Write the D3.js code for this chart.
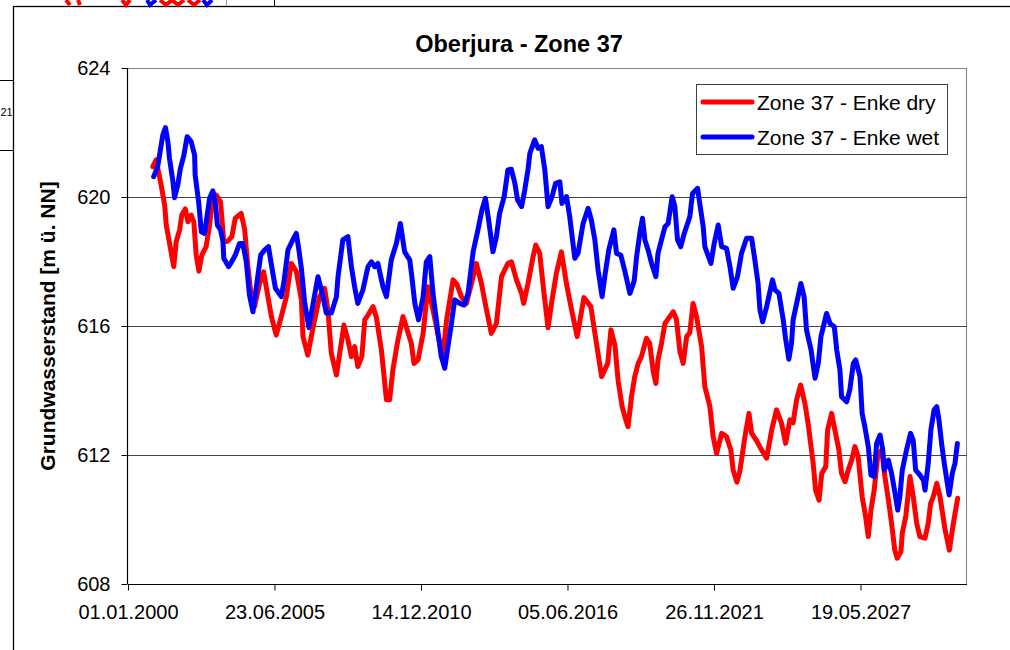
<!DOCTYPE html>
<html>
<head>
<meta charset="utf-8">
<script src="https://cdn.jsdelivr.net/npm/d3@7"></script>
<style>
  html, body { margin: 0; padding: 0; background: #fff; }
  svg { display: block; font-family: "Liberation Sans", Arial, sans-serif; }
</style>
</head>
<body>
<svg id="chart" width="1010" height="650"></svg>
<script>
// ---------------- data ----------------
const chartTitle = "Oberjura - Zone 37";
const yAxisTitle = "Grundwasserstand [m ü. NN]";
const seriesNames = ["Zone 37 - Enke dry", "Zone 37 - Enke wet"];
const seriesColors = ["#FF0000", "#0000FF"];
const yTicks = [608, 612, 616, 620, 624];
const xTickLabels = ["01.01.2000", "23.06.2005", "14.12.2010", "05.06.2016", "26.11.2021", "19.05.2027"];
const xAxisEnd = "12.05.2031";

const dryYears = [2000.93,2001.05,2001.24,2001.37,2001.43,2001.71,2001.80,2001.93,2002.01,2002.14,2002.24,2002.36,2002.46,2002.55,2002.65,2002.76,2002.92,2003.05,2003.17,2003.30,2003.46,2003.58,2003.73,2003.88,2004.01,2004.23,2004.36,2004.48,2004.61,2004.73,2004.92,2005.07,2005.23,2005.36,2005.54,2005.73,2005.92,2006.10,2006.29,2006.48,2006.54,2006.72,2006.91,2007.16,2007.35,2007.47,2007.60,2007.79,2007.97,2008.07,2008.22,2008.35,2008.47,2008.59,2008.74,2008.85,2008.97,2009.16,2009.28,2009.47,2009.66,2009.78,2009.90,2010.09,2010.28,2010.40,2010.59,2010.69,2010.84,2011.03,2011.21,2011.40,2011.65,2011.77,2011.91,2012.15,2012.29,2012.46,2012.65,2012.84,2013.02,2013.21,2013.40,2013.58,2013.77,2013.96,2014.20,2014.33,2014.52,2014.71,2014.79,2014.95,2015.14,2015.24,2015.39,2015.51,2015.70,2015.83,2016.01,2016.20,2016.39,2016.58,2016.79,2017.04,2017.30,2017.51,2017.70,2017.93,2018.05,2018.20,2018.32,2018.47,2018.57,2018.69,2018.82,2018.94,2019.07,2019.19,2019.38,2019.50,2019.63,2019.73,2019.81,2019.94,2020.07,2020.25,2020.38,2020.50,2020.63,2020.75,2020.88,2021.00,2021.12,2021.25,2021.44,2021.56,2021.75,2021.87,2022.00,2022.19,2022.37,2022.53,2022.62,2022.76,2022.87,2023.06,2023.21,2023.31,2023.49,2023.68,2023.87,2024.06,2024.24,2024.43,2024.58,2024.74,2024.86,2024.99,2025.14,2025.30,2025.42,2025.61,2025.70,2025.83,2025.93,2026.08,2026.15,2026.30,2026.42,2026.57,2026.67,2026.80,2026.92,2027.05,2027.17,2027.29,2027.44,2027.57,2027.67,2027.77,2027.89,2028.02,2028.17,2028.29,2028.44,2028.54,2028.66,2028.75,2028.89,2028.94,2029.07,2029.23,2029.35,2029.48,2029.60,2029.79,2029.91,2030.00,2030.10,2030.23,2030.35,2030.54,2030.70,2030.85,2031.01];
const dryValues = [620.94,621.15,620.37,619.75,619.13,617.84,618.61,618.98,619.44,619.63,619.23,619.44,619.23,618.2,617.7,618.2,618.46,619.13,620.06,620.06,619.85,618.61,618.63,618.77,619.34,619.49,619.0,617.84,616.91,616.6,617.32,617.68,616.91,616.29,615.72,616.29,616.91,617.94,617.7,616.81,615.67,615.1,615.93,616.91,617.17,616.5,615.15,614.48,615.46,616.03,615.57,615.05,615.36,614.74,615.05,616.19,616.34,616.6,616.29,615.26,613.71,613.71,614.64,615.57,616.29,615.98,615.46,614.84,614.95,615.77,617.22,616.5,615.47,615.1,616.2,617.43,617.3,616.91,616.7,617.32,617.94,617.32,616.5,615.77,616.08,617.53,617.94,617.99,617.43,617.01,616.7,617.32,618.15,618.51,618.25,617.3,615.95,616.7,617.63,618.3,617.3,616.5,615.67,616.88,616.6,615.46,614.43,614.84,615.88,615.4,614.3,613.5,613.19,612.88,613.81,614.43,614.84,615.05,615.62,615.46,614.6,614.22,614.95,615.46,616.08,616.29,616.44,616.2,615.2,614.84,615.67,615.8,616.7,616.29,615.36,614.12,613.5,612.57,612.05,612.67,612.57,612.16,611.53,611.16,611.5,612.57,613.29,612.67,612.45,612.16,611.9,612.78,613.4,612.98,612.36,613.09,613.0,613.71,614.17,613.6,612.98,611.74,610.91,610.6,611.43,611.64,612.78,613.29,612.78,612.16,611.43,611.17,611.53,611.84,612.26,611.95,610.71,610.09,609.47,610.29,610.91,611.95,612.16,611.33,610.5,609.88,609.05,608.8,609.0,609.57,610.09,611.33,610.71,609.88,609.47,609.42,609.88,610.5,610.71,611.12,610.71,609.68,609.05,609.88,610.66];

const wetYears = [2000.96,2001.11,2001.22,2001.30,2001.40,2001.49,2001.55,2001.68,2001.74,2001.86,2001.96,2002.09,2002.21,2002.36,2002.49,2002.51,2002.64,2002.74,2002.86,2002.96,2003.05,2003.17,2003.26,2003.34,2003.46,2003.55,2003.58,2003.76,2003.88,2004.01,2004.17,2004.29,2004.42,2004.54,2004.67,2004.79,2004.96,2005.11,2005.25,2005.36,2005.51,2005.73,2005.83,2005.98,2006.16,2006.29,2006.38,2006.48,2006.60,2006.76,2006.91,2007.10,2007.29,2007.41,2007.60,2007.79,2007.85,2008.03,2008.22,2008.35,2008.47,2008.59,2008.78,2008.97,2009.10,2009.22,2009.34,2009.53,2009.66,2009.84,2010.03,2010.18,2010.34,2010.53,2010.61,2010.72,2010.86,2011.03,2011.15,2011.28,2011.40,2011.59,2011.71,2011.84,2011.94,2012.09,2012.21,2012.40,2012.56,2012.71,2012.90,2013.08,2013.23,2013.36,2013.48,2013.64,2013.77,2013.89,2014.06,2014.20,2014.33,2014.46,2014.56,2014.71,2014.83,2014.95,2015.02,2015.20,2015.33,2015.45,2015.58,2015.70,2015.85,2015.98,2016.14,2016.22,2016.39,2016.51,2016.60,2016.70,2016.82,2017.01,2017.20,2017.32,2017.45,2017.57,2017.72,2017.82,2017.97,2018.16,2018.26,2018.42,2018.57,2018.76,2018.92,2019.01,2019.13,2019.23,2019.32,2019.44,2019.57,2019.73,2019.81,2019.94,2020.07,2020.19,2020.34,2020.44,2020.54,2020.66,2020.79,2021.00,2021.10,2021.29,2021.37,2021.50,2021.56,2021.79,2021.91,2022.06,2022.19,2022.37,2022.50,2022.62,2022.78,2022.93,2023.12,2023.31,2023.43,2023.55,2023.62,2023.72,2023.87,2024.09,2024.18,2024.33,2024.49,2024.58,2024.70,2024.80,2024.86,2025.02,2025.15,2025.27,2025.36,2025.53,2025.68,2025.80,2025.90,2026.02,2026.11,2026.24,2026.40,2026.49,2026.61,2026.67,2026.86,2026.98,2027.11,2027.20,2027.36,2027.44,2027.54,2027.67,2027.77,2027.89,2027.98,2028.11,2028.21,2028.27,2028.42,2028.54,2028.67,2028.77,2028.85,2028.94,2029.10,2029.25,2029.35,2029.44,2029.60,2029.73,2029.79,2029.91,2030.01,2030.13,2030.23,2030.31,2030.41,2030.51,2030.69,2030.81,2030.91,2031.00];
const wetValues = [620.63,620.94,621.51,621.92,622.15,621.72,621.2,620.48,619.98,620.37,620.89,621.3,621.87,621.72,621.3,620.68,619.85,618.92,618.87,619.44,619.96,620.19,619.85,619.13,618.98,618.61,618.1,617.84,618.0,618.2,618.56,618.56,618.0,616.96,616.44,617.17,618.2,618.36,618.46,617.9,617.17,616.91,617.38,618.36,618.67,618.87,618.4,617.79,616.75,615.95,616.65,617.53,616.91,616.4,616.4,616.91,617.53,618.67,618.77,617.84,617.22,616.7,617.12,617.84,617.99,617.84,617.94,617.22,616.91,618.05,618.56,619.18,618.3,618.05,617.53,616.7,616.19,616.91,617.99,618.15,617.01,615.77,615.05,614.69,615.26,616.08,616.81,616.7,616.65,617.01,618.3,618.98,619.6,619.96,619.28,618.3,618.77,619.49,620.01,620.84,620.86,620.42,619.91,619.7,620.22,620.84,621.35,621.77,621.51,621.56,620.84,619.7,620.01,620.42,620.47,619.8,620.01,619.39,618.77,618.1,618.25,619.18,619.65,619.28,618.67,617.74,616.91,617.53,618.36,618.98,618.25,618.2,617.7,617.01,617.4,618.15,618.87,619.34,618.67,618.36,617.94,617.53,618.25,618.67,619.08,619.18,620.01,619.7,618.67,618.46,618.87,619.39,620.11,620.27,619.8,619.08,618.46,617.94,618.56,619.13,618.46,618.41,617.84,617.17,617.53,618.25,618.72,618.72,618.05,617.32,616.5,616.13,616.6,617.43,617.12,617.01,616.19,615.6,614.97,615.46,616.19,616.81,617.32,616.91,615.88,615.26,614.38,614.84,615.67,616.08,616.39,616.08,615.98,615.26,614.64,613.81,613.65,614.02,614.84,614.95,614.43,613.29,612.88,612.26,611.38,611.33,612.36,612.62,612.16,611.53,611.84,611.43,610.81,610.29,610.71,611.53,612.16,612.67,612.45,611.53,611.38,611.22,610.91,611.74,612.78,613.4,613.5,613.09,612.36,611.74,610.76,611.43,611.74,612.36];

// ---------------- layout ----------------
const svg = d3.select("#chart");
const plot = { left: 128, right: 967, top: 68, bottom: 584 };
const parseDate = d3.utcParse("%d.%m.%Y");
const t0 = Date.UTC(2000, 0, 1);
const yearToDate = y => new Date(t0 + (y - 2000) * 365.25 * 86400000);

const x = d3.scaleUtc()
  .domain([parseDate(xTickLabels[0]), parseDate(xAxisEnd)])
  .range([plot.left, plot.right]);
const y = d3.scaleLinear()
  .domain([yTicks[0], yTicks[yTicks.length - 1]])
  .range([plot.bottom, plot.top]);

svg.append("rect").attr("width", 1010).attr("height", 650).attr("fill", "#fff");

// remnants of an underlying sheet / chart (decorative)
const deco = svg.append("g").attr("class", "deco");
deco.append("rect").attr("x", 13.5).attr("y", 6.5).attr("width", 1100).attr("height", 700)
  .attr("fill", "none").attr("stroke", "#000").attr("stroke-width", 1.3);
deco.append("line").attr("x1", 0).attr("x2", 13).attr("y1", 80.5).attr("y2", 80.5).attr("stroke", "#000");
deco.append("line").attr("x1", 0).attr("x2", 13).attr("y1", 150.5).attr("y2", 150.5).attr("stroke", "#000");
deco.append("text").attr("x", 0.5).attr("y", 116).attr("text-anchor", "start")
  .attr("font-size", 11).text("21");
deco.append("line").attr("x1", 226.5).attr("x2", 226.5).attr("y1", 0).attr("y2", 6).attr("stroke", "#999");
deco.append("line").attr("x1", 274.5).attr("x2", 274.5).attr("y1", 0).attr("y2", 6).attr("stroke", "#000");
const stubs = [
  ["#FF0000", "M66,0 L70,5"], ["#FF0000", "M78,0 L80,5"], ["#FF0000", "M122,0 L126,5 L130,0"],
  ["#0000FF", "M147,0 L150,5 L156,0"], ["#FF0000", "M160,0 L166,5 L172,0 L178,5 L184,0"],
  ["#FF0000", "M188,0 L194,5 L200,0"], ["#0000FF", "M203,0 L207,5 L212,0"]
];
stubs.forEach(s => deco.append("path").attr("d", s[1]).attr("fill", "none")
  .attr("stroke", s[0]).attr("stroke-width", 4));

// plot frame + gridlines
svg.append("line").attr("x1", plot.left).attr("x2", plot.right)
  .attr("y1", plot.top + 0.5).attr("y2", plot.top + 0.5).attr("stroke", "#808080");
svg.append("line").attr("x1", plot.right - 0.5).attr("x2", plot.right - 0.5)
  .attr("y1", plot.top).attr("y2", plot.bottom).attr("stroke", "#808080");
svg.append("g").selectAll("line").data(yTicks.slice(1, -1)).join("line")
  .attr("x1", plot.left).attr("x2", plot.right)
  .attr("y1", d => Math.round(y(d)) + 0.5).attr("y2", d => Math.round(y(d)) + 0.5)
  .attr("stroke", "#444").attr("stroke-width", 1);

// axes
const yAxis = d3.axisLeft(y).tickValues(yTicks).tickSize(6).tickPadding(11).tickFormat(d3.format("d"));
const gy = svg.append("g").attr("transform", `translate(${plot.left - 0.5},0)`).call(yAxis);
const xAxis = d3.axisBottom(x).tickValues(xTickLabels.map(parseDate)).tickSize(6).tickPadding(14)
  .tickFormat(d3.utcFormat("%d.%m.%Y"));
const gx = svg.append("g").attr("transform", `translate(0,${plot.bottom + 0.5})`).call(xAxis);
[gx, gy].forEach(g => {
  g.select(".domain").attr("stroke", "#000").attr("stroke-width", 1.2);
  g.selectAll(".tick line").attr("stroke", "#000");
  g.selectAll("text").attr("font-size", 20).attr("fill", "#000")
    .attr("font-family", "'Liberation Sans', Arial, sans-serif");
});
gx.select(".domain").attr("d", `M${plot.left},0H${plot.right}`);
gy.select(".domain").attr("d", `M0,${plot.bottom}V${plot.top}`);

// series
const line = d3.line().x(d => x(d[0])).y(d => y(d[1]));
const series = [
  dryYears.map((yr, i) => [yearToDate(yr), dryValues[i]]),
  wetYears.map((yr, i) => [yearToDate(yr), wetValues[i]])
];
series.forEach((s, i) => {
  svg.append("path").datum(s).attr("d", line).attr("fill", "none")
    .attr("stroke", seriesColors[i]).attr("stroke-width", 5)
    .attr("stroke-linejoin", "round").attr("stroke-linecap", "round");
});

// title
svg.append("text").attr("x", 519).attr("y", 52).attr("text-anchor", "middle")
  .attr("font-size", 23.5).attr("font-weight", "bold").text(chartTitle);

// y axis title
svg.append("text").attr("transform", `translate(55,${(plot.top + plot.bottom) / 2}) rotate(-90)`)
  .attr("text-anchor", "middle").attr("font-size", 21).attr("font-weight", "bold").text(yAxisTitle);

// legend
const lg = svg.append("g").attr("transform", "translate(696,84)");
lg.append("rect").attr("x", 0.5).attr("y", 0.5).attr("width", 251).attr("height", 70)
  .attr("fill", "#fff").attr("stroke", "#404040");
seriesNames.forEach((name, i) => {
  const cy = 18 + i * 35;
  lg.append("line").attr("x1", 7).attr("x2", 56).attr("y1", cy).attr("y2", cy)
    .attr("stroke", seriesColors[i]).attr("stroke-width", 5).attr("stroke-linecap", "round");
  lg.append("text").attr("x", 61).attr("y", cy + 7.5).attr("font-size", 21).text(name);
});
</script>
</body>
</html>
